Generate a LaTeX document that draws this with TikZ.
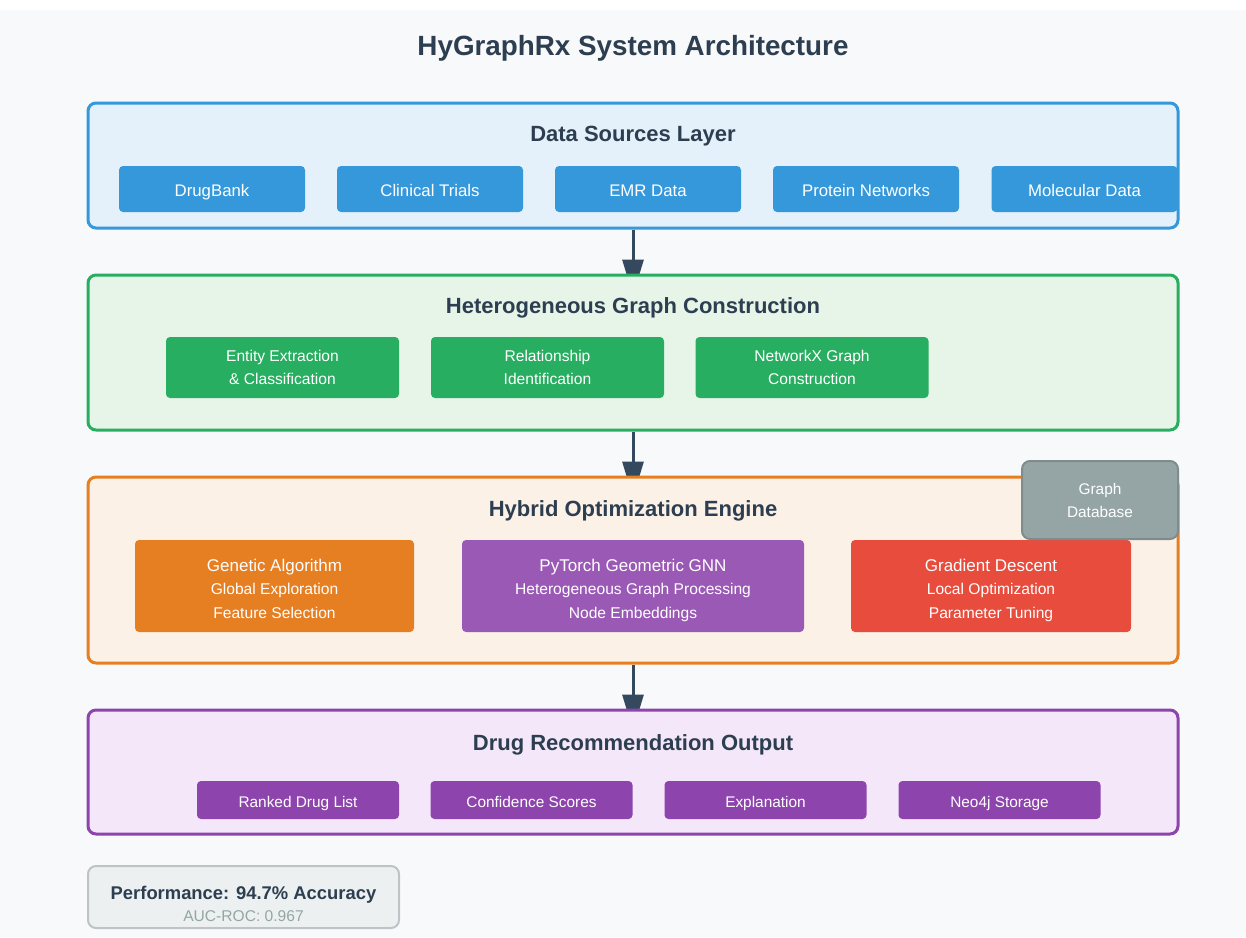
\documentclass[tikz,border=0pt]{standalone}
\usepackage{fontspec}
\setmainfont{Liberation Sans}
\usetikzlibrary{arrows.meta}
\pgfdeclarelayer{back}
\pgfsetlayers{back,main}

\definecolor{bgpage}{HTML}{F8F9FA}
\definecolor{ink}{HTML}{2C3E50}
\definecolor{arrowink}{HTML}{34495E}
\definecolor{srcblue}{HTML}{3498DB}
\definecolor{srcfill}{HTML}{E4F1FB}
\definecolor{grgreen}{HTML}{27AE60}
\definecolor{grfill}{HTML}{E7F5E9}
\definecolor{engorange}{HTML}{E67E22}
\definecolor{engfill}{HTML}{FCF1E7}
\definecolor{gnnpurple}{HTML}{9B59B6}
\definecolor{gdred}{HTML}{E74C3C}
\definecolor{outpurple}{HTML}{8E44AD}
\definecolor{outfill}{HTML}{F4E7F9}
\definecolor{dbgray}{HTML}{95A5A6}
\definecolor{dbedge}{HTML}{7F8C8D}
\definecolor{perffill}{HTML}{ECF0F1}
\definecolor{perfedge}{HTML}{BDC3C7}

\newcommand{\headline}[1]{{\fontsize{8.5}{11.75}\selectfont\rule{0pt}{8.7pt}#1}}

\tikzset{
  layer/.style 2 args={draw=#1, fill=#2, line width=1.5pt, rounded corners=4pt,
    minimum width=545pt, inner sep=0pt},
  capline/.style={text height=0.716em, text depth=0pt},
  layertitle/.style={font=\bfseries\fontsize{11}{13}\selectfont, text=ink, capline},
  box/.style={fill=#1, text=white, rounded corners=2pt, inner sep=0pt, align=center},
  flow/.style={-{Triangle[width=10.5pt,length=18pt]}, line width=1.5pt,
    draw=arrowink, shorten >=-11pt},
}

\begin{document}
\begin{tikzpicture}[x=0.5pt, y=-0.5pt]
    \useasboundingbox (0,0) rectangle (1246,937);

    % Title
    \node[font=\bfseries\fontsize{13.9}{16}\selectfont, text=ink, capline] (title) at (633,48.5)
        {HyGraphRx System Architecture};

    % Data sources layer
    \node[layer={srcblue}{srcfill}, minimum height=62.5pt] (src) at (633,165.5) {};
    \node[layertitle] (srctitle) at (633,134) {Data Sources Layer};
    \begin{scope}[every node/.style={box=srcblue, minimum width=93pt, minimum height=23pt,
        font=\fontsize{8.4}{10}\selectfont, capline}]
        \node (drugbank) at (212,189) {DrugBank};
        \node (trials) at (430,189) {Clinical Trials};
        \node (emr) at (648,189) {EMR Data};
        \node (protein) at (866,189) {Protein Networks};
        \node (molecular) at (1084.5,189) {Molecular Data};
    \end{scope}

    % Graph construction layer
    \node[layer={grgreen}{grfill}, minimum height=77.5pt] (graph) at (633,352.5) {};
    \node[layertitle] (graphtitle) at (633,306) {Heterogeneous Graph Construction};
    \begin{scope}[every node/.style={box=grgreen, minimum width=116.5pt, minimum height=30.5pt,
        font=\fontsize{7.8}{11.5}\selectfont}]
        \node (entity) at (282.5,367.5) {Entity Extraction\\\& Classification};
        \node (relation) at (547.5,367.5) {Relationship\\Identification};
        \node (networkx) at (812,367.5) {NetworkX Graph\\Construction};
    \end{scope}

    % Hybrid optimization layer
    \node[layer={engorange}{engfill}, minimum height=93pt] (engine) at (633,570) {};
    \node[layertitle] (enginetitle) at (633,509) {Hybrid Optimization Engine};
    \begin{scope}[every node/.style={box, minimum height=46pt, text depth=0pt,
        font=\fontsize{7.8}{11.75}\selectfont}]
        \node[fill=engorange, minimum width=139.5pt] (genetic) at (274.5,586)
            {\headline{Genetic Algorithm}\\Global Exploration\\Feature Selection};
        \node[fill=gnnpurple, minimum width=171pt] (gnn) at (633,586)
            {\headline{PyTorch Geometric GNN}\\Heterogeneous Graph Processing\\Node Embeddings};
        \node[fill=gdred, minimum width=140pt] (gradient) at (991,586)
            {\headline{Gradient Descent}\\Local Optimization\\Parameter Tuning};
    \end{scope}

    % Graph database
    \node[box=dbgray, draw=dbedge, line width=1pt, rounded corners=4pt,
        minimum width=78pt, minimum height=39pt, font=\fontsize{7.7}{11.5}\selectfont]
        (graphdb) at (1100,500) {Graph\\Database};

    % Output layer
    \node[layer={outpurple}{outfill}, minimum height=62pt] (output) at (633,772) {};
    \node[layertitle] (outputtitle) at (633,743) {Drug Recommendation Output};
    \begin{scope}[every node/.style={box=outpurple, minimum width=101pt, minimum height=19pt,
        font=\fontsize{7.7}{10}\selectfont, capline}]
        \node (ranked) at (298,800) {Ranked Drug List};
        \node (confidence) at (531.5,800) {Confidence Scores};
        \node (explain) at (765.5,800) {Explanation};
        \node (neo4j) at (999.5,800) {Neo4j Storage};
    \end{scope}

    % Performance
    \node[draw=perfedge, fill=perffill, line width=1pt, rounded corners=4pt,
        minimum width=155.5pt, minimum height=31pt, inner sep=0pt] (perf) at (243.5,897) {};
    \node[font=\bfseries\fontsize{9.2}{10}\selectfont, text=ink, capline] (perfacc) at (243.5,892)
        {Performance: 94.7\% Accuracy};
    \node[font=\fontsize{7.8}{9}\selectfont, text=dbgray, capline] (perfauc) at (243.5,914)
        {AUC-ROC: 0.967};

    % Background and flow arrows
    \begin{pgfonlayer}{back}
        \fill[bgpage] (0,10) rectangle (1246,937);
        \draw[flow] (src.south) -- (graph.north);
        \draw[flow] (graph.south) -- (engine.north);
        \draw[flow] (engine.south) -- (output.north);
    \end{pgfonlayer}
\end{tikzpicture}
\end{document}
